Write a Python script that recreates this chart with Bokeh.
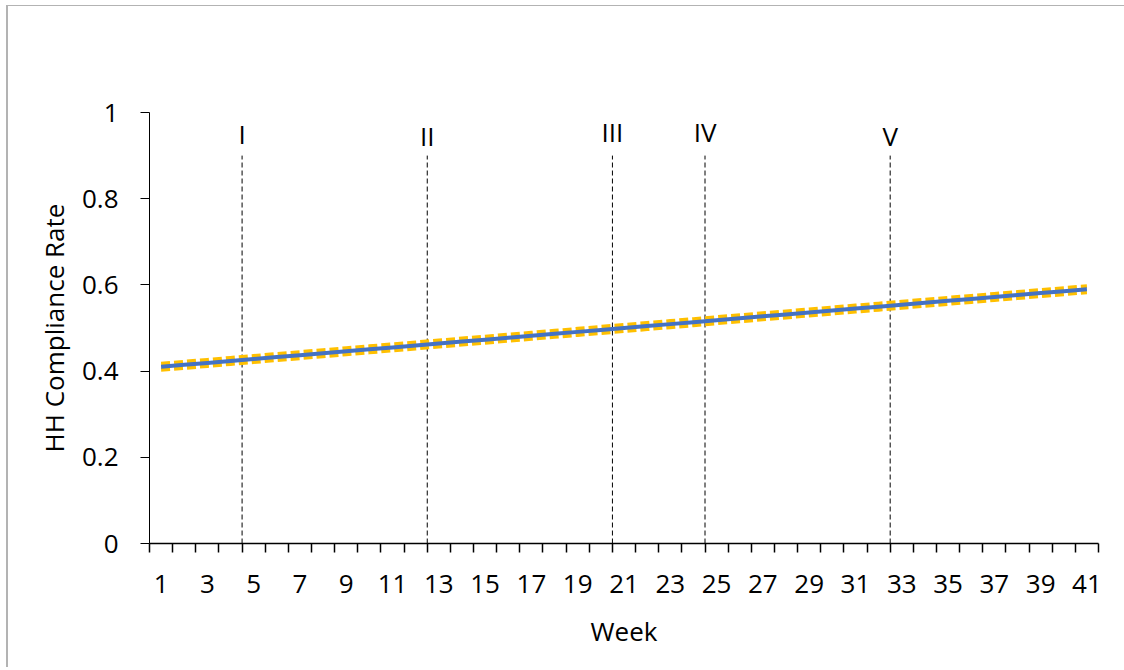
from bokeh.plotting import figure
from bokeh.models import Range1d, FixedTicker
from bokeh.core.properties import value
from bokeh.embed import file_html
from bokeh.resources import INLINE

weeks = list(range(1, 42))
trend = [0.4100, 0.4145, 0.4190, 0.4235, 0.4280, 0.4325, 0.4370, 0.4415, 0.4460, 0.4505,
         0.4550, 0.4595, 0.4640, 0.4685, 0.4730, 0.4775, 0.4820, 0.4865, 0.4910, 0.4955,
         0.5000, 0.5045, 0.5090, 0.5135, 0.5180, 0.5225, 0.5270, 0.5315, 0.5360, 0.5405,
         0.5450, 0.5495, 0.5540, 0.5585, 0.5630, 0.5675, 0.5720, 0.5765, 0.5810, 0.5855,
         0.5900]
upper = [0.4170, 0.4215, 0.4260, 0.4305, 0.4350, 0.4395, 0.4440, 0.4485, 0.4530, 0.4575,
         0.4620, 0.4665, 0.4710, 0.4755, 0.4800, 0.4845, 0.4890, 0.4935, 0.4980, 0.5025,
         0.5070, 0.5115, 0.5160, 0.5205, 0.5250, 0.5295, 0.5340, 0.5385, 0.5430, 0.5475,
         0.5520, 0.5565, 0.5610, 0.5655, 0.5700, 0.5745, 0.5790, 0.5835, 0.5880, 0.5925,
         0.5970]
lower = [0.4030, 0.4075, 0.4120, 0.4165, 0.4210, 0.4255, 0.4300, 0.4345, 0.4390, 0.4435,
         0.4480, 0.4525, 0.4570, 0.4615, 0.4660, 0.4705, 0.4750, 0.4795, 0.4840, 0.4885,
         0.4930, 0.4975, 0.5020, 0.5065, 0.5110, 0.5155, 0.5200, 0.5245, 0.5290, 0.5335,
         0.5380, 0.5425, 0.5470, 0.5515, 0.5560, 0.5605, 0.5650, 0.5695, 0.5740, 0.5785,
         0.5830]

# phase markers (between weeks)
phase_labels = ["I", "II", "III", "IV", "V"]
phase_x = [4.5, 12.5, 20.5, 24.5, 32.5]
phase_top = [0.9, 0.9, 0.9, 0.9, 0.9]
phase_label_y = [0.95, 0.945, 0.955, 0.955, 0.945]

x_tick_vals = list(range(1, 42, 2))
y_tick_vals = [0, 0.2, 0.4, 0.6, 0.8, 1.0]
y_tick_labels = ["0", "0.2", "0.4", "0.6", "0.8", "1"]

FONT = "Open Sans"
FS = "26px"

p = figure(output_backend="svg", toolbar_location=None,
           frame_width=949, frame_height=431,
           min_border_left=141, min_border_right=26,
           min_border_top=106, min_border_bottom=124,
           x_range=Range1d(0.5, 41.5), y_range=Range1d(0, 1),
           styles={"border-left": "2px solid #b3b3b3", "border-top": "1px solid #b3b3b3",
                   "margin-left": "6px", "margin-top": "5px"})
p.grid.visible = False
p.outline_line_color = None

# phase lines
for xv, top in zip(phase_x, phase_top):
    p.line([xv, xv], [0, top], line_color="black", line_width=1, line_dash="5 3")
p.text(x=phase_x, y=phase_label_y, text=phase_labels, text_align="center",
       text_baseline="middle", text_font=value(FONT), text_font_size=FS,
       text_color="black")

# CI and trend lines
p.line(weeks, upper, line_color="#FFC000", line_width=4, line_dash="9 4")
p.line(weeks, lower, line_color="#FFC000", line_width=4, line_dash="9 4")
p.line(weeks, trend, line_color="#4472C4", line_width=4)

# x axis
xa = p.xaxis[0]
xa.ticker = FixedTicker(ticks=x_tick_vals, minor_ticks=[w - 0.5 for w in range(1, 43)])
xa.major_tick_out = 0
xa.major_tick_in = 0
xa.minor_tick_out = 9
xa.minor_tick_in = 0
xa.minor_tick_line_color = "black"
xa.minor_tick_line_width = 1.5
xa.axis_line_color = "black"
xa.axis_line_width = 1.5
xa.major_label_text_font = FONT
xa.major_label_text_font_size = FS
xa.major_label_text_color = "black"
xa.major_label_standoff = 22
xa.axis_label = "Week"
xa.axis_label_text_font = FONT
xa.axis_label_text_font_size = FS
xa.axis_label_text_font_style = "normal"
xa.axis_label_text_color = "black"
xa.axis_label_standoff = 17

# y axis
ya = p.yaxis[0]
ya.ticker = FixedTicker(ticks=y_tick_vals)
ya.major_label_overrides = {v: t for v, t in zip(y_tick_vals, y_tick_labels)}
ya.major_tick_out = 9
ya.major_tick_in = 0
ya.minor_tick_line_color = None
ya.major_tick_line_color = "black"
ya.axis_line_color = "black"
ya.axis_line_width = 1
ya.major_label_text_font = FONT
ya.major_label_text_font_size = FS
ya.major_label_text_color = "black"
ya.major_label_standoff = 22
ya.axis_label = "HH Compliance Rate"
ya.axis_label_text_font = FONT
ya.axis_label_text_font_size = FS
ya.axis_label_text_font_style = "normal"
ya.axis_label_text_color = "black"
ya.axis_label_standoff = 7

open("out.html", "w").write(file_html(p, INLINE))
